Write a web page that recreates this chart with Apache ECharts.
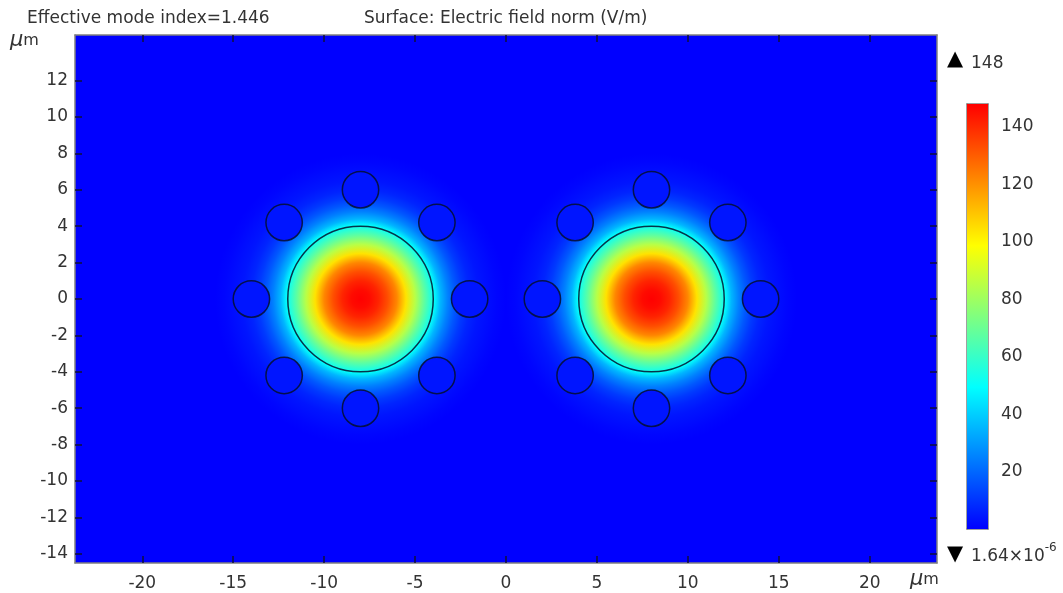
<!DOCTYPE html>
<html>
<head>
<meta charset="utf-8">
<style>html,body{margin:0;padding:0;background:#fff}#chart{width:1063px;height:593px}</style>
<script src="https://cdn.jsdelivr.net/npm/echarts@6/dist/echarts.min.js"></script>
</head>
<body>
<div id="chart"></div>
<script>
// Values.
const xTicks = [-20, -15, -10, -5, 0, 5, 10, 15, 20];
const yTicks = [-14, -12, -10, -8, -6, -4, -2, 0, 2, 4, 6, 8, 10, 12];
const barTicks = [20, 40, 60, 80, 100, 120, 140];
const fieldMin = 0.00000164;
const fieldMax = 148;

// Core centres and their radius (um)
const coreX = [-8, 8];
const coreY = [0, 0];
const coreRadius = 4;

// Ring of air holes around each core (um)
const holeX = [-8, -12.2, -3.8, -14, -2, -12.2, -3.8, -8, 8, 3.8, 12.2, 2, 14, 3.8, 12.2, 8];
const holeY = [6, 4.2, 4.2, 0, 0, -4.2, -4.2, -6, 6, 4.2, 4.2, 0, 0, -4.2, -4.2, -6];
const holeRadius = 1;
const holeField = 4;

// Electric field norm read along the radius of a core: distance (um) and V/m
const profileR = [0, 0.5, 1, 1.5, 2, 2.5, 3, 3.5, 3.95, 4.05, 4.4, 4.8, 5.2, 5.6, 6, 6.5, 7, 7.5, 8];
const profileE = [148, 146, 141, 133, 122, 104, 85, 68, 54, 50, 35, 25, 17, 11, 7, 4, 2.5, 1, 0];

// Colour table of the scale, positions as fractions of the range
const paletteAt = [0, 1 / 3, 2 / 3, 1];
const paletteRGB = [[0, 0, 255], [0, 255, 255], [255, 255, 0], [255, 0, 0]];

function colorOf(v) {
  const t = Math.max(0, Math.min(1, v / fieldMax));
  let i = 0;
  while (i < paletteAt.length - 2 && t > paletteAt[i + 1]) i++;
  const f = (t - paletteAt[i]) / (paletteAt[i + 1] - paletteAt[i]);
  const a = paletteRGB[i], b = paletteRGB[i + 1];
  return 'rgb(' + a.map((c, k) => Math.round(c + (b[k] - c) * f)).join(',') + ')';
}

const outerR = profileR[profileR.length - 1];
const fieldStops = profileR.map((r, i) => ({ offset: r / outerR, color: colorOf(profileE[i]) }));
const barStops = paletteAt.map((p, i) => ({ offset: 1 - p, color: 'rgb(' + paletteRGB[i].join(',') + ')' })).reverse();

const outlineData = coreX.map((x, i) => [x, coreY[i], coreRadius, -1])
  .concat(holeX.map((x, i) => [x, holeY[i], holeRadius, holeField]));

const textColor = '#333';
const font = 'DejaVu Sans';
const lineColor = '#808080';
const fontSize = 17;

function unitText(left, top) {
  return {
    type: 'text', left, top, z: 10,
    style: {
      text: '{a|\u03BC}{b|m}',
      rich: {
        a: { fontFamily: font, fontStyle: 'italic', fontSize: 21, fill: textColor, fontWeight: 'normal' },
        b: { fontFamily: font, fontSize: 16, fill: textColor }
      }
    }
  };
}

const mainX = (pos, labels) => ({
  type: 'value', gridIndex: 0, position: pos, min: -23.7, max: 23.7, scale: true,
  splitLine: { show: false },
  axisLine: { show: true, onZero: false, lineStyle: { color: lineColor, width: 1.5 } },
  axisTick: { show: true, inside: true, length: 7, customValues: xTicks, lineStyle: { color: '#10103a', width: 1.5 } },
  axisLabel: labels
    ? { show: true, customValues: xTicks, margin: 12, color: textColor, fontFamily: font, fontSize }
    : { show: false }
});
const mainY = (pos, labels) => ({
  type: 'value', gridIndex: 0, position: pos, min: -14.5, max: 14.5, scale: true,
  splitLine: { show: false },
  axisLine: { show: true, onZero: false, lineStyle: { color: lineColor, width: 1.5 } },
  axisTick: { show: true, inside: true, length: 7, customValues: yTicks, lineStyle: { color: '#10103a', width: 1.5 } },
  axisLabel: labels
    ? { show: true, customValues: yTicks, margin: 7, padding: [2, 0, 0, 0], color: textColor, fontFamily: font, fontSize }
    : { show: false }
});
const barX = pos => ({
  type: 'value', gridIndex: 1, position: pos, min: 0, max: 1,
  splitLine: { show: false },
  axisLine: { show: true, onZero: false, lineStyle: { color: lineColor, width: 1.5 } },
  axisTick: { show: false }, axisLabel: { show: false }
});
const barY = (pos, labels) => ({
  type: 'value', gridIndex: 1, position: pos, min: 0, max: fieldMax,
  splitLine: { show: false },
  axisLine: { show: true, onZero: false, lineStyle: { color: lineColor, width: 1.5 } },
  axisTick: { show: true, inside: true, length: 4, customValues: barTicks, lineStyle: { color: '#222', width: 1.5 } },
  axisLabel: labels
    ? { show: true, customValues: barTicks, margin: 13, padding: [2, 0, 0, 0], color: textColor, fontFamily: font, fontSize }
    : { show: false }
});

const chart = echarts.init(document.getElementById('chart'));
chart.setOption({
  animation: false,
  backgroundColor: '#fff',
  title: [
    { text: 'Effective mode index=1.446', left: 27, top: 10, padding: 0, textStyle: { fontFamily: font, fontSize: 17, fontWeight: 'normal', color: textColor } },
    { text: 'Surface: Electric field norm (V/m)', left: 364, top: 10, padding: 0, textStyle: { fontFamily: font, fontSize: 17, fontWeight: 'normal', color: textColor } }
  ],
  grid: [
    { left: 75, top: 35, width: 862, height: 528, show: true, backgroundColor: colorOf(0), borderWidth: 0 },
    { left: 967, top: 104, width: 21, height: 425, show: false }
  ],
  xAxis: [mainX('bottom', true), mainX('top', false), barX('bottom'), barX('top')],
  yAxis: [mainY('left', true), mainY('right', false), barY('right', true), barY('left', false)],
  series: [
    {
      type: 'custom', name: 'Electric field norm', xAxisIndex: 0, yAxisIndex: 0, z: 1, silent: true, clip: true,
      data: coreX.map((x, i) => [x, coreY[i]]),
      renderItem(params, api) {
        const c = api.coord([api.value(0), api.value(1)]);
        const r = api.size([outerR, 0])[0];
        return {
          type: 'circle', shape: { cx: c[0], cy: c[1], r },
          style: { fill: { type: 'radial', x: 0.5, y: 0.5, r: 0.5, colorStops: fieldStops } }
        };
      }
    },
    {
      type: 'custom', name: 'Geometry', xAxisIndex: 0, yAxisIndex: 0, z: 2, silent: true,
      data: outlineData,
      renderItem(params, api) {
        const c = api.coord([api.value(0), api.value(1)]);
        const r = api.size([api.value(2), 0])[0];
        const v = api.value(3);
        return {
          type: 'circle', shape: { cx: c[0], cy: c[1], r },
          style: { fill: v < 0 ? 'transparent' : colorOf(v), stroke: 'rgba(5,15,45,0.85)', lineWidth: 1.5 }
        };
      }
    },
    {
      type: 'custom', name: 'Colour scale', xAxisIndex: 2, yAxisIndex: 2, z: 1, silent: true,
      data: [[fieldMin, fieldMax]],
      renderItem(params, api) {
        const a = api.coord([0, api.value(1)]);
        const b = api.coord([1, api.value(0)]);
        return {
          type: 'rect', shape: { x: a[0], y: a[1], width: b[0] - a[0], height: b[1] - a[1] },
          style: { fill: { type: 'linear', x: 0, y: 0, x2: 0, y2: 1, colorStops: barStops } }
        };
      }
    }
  ],
  graphic: [
    unitText(10, 30),
    unitText(910, 569),
    { type: 'text', left: 947, top: 49, style: { text: '\u25B2', fontFamily: font, fontSize: 21, fill: '#000' } },
    { type: 'text', left: 971, top: 55, style: { text: String(fieldMax), fontFamily: font, fontSize, fill: textColor } },
    { type: 'text', left: 947, top: 544, style: { text: '\u25BC', fontFamily: font, fontSize: 21, fill: '#000' } },
    {
      type: 'text', left: 971, top: 542,
      style: {
        text: '{a|1.64\u00D710}{b|-6}',
        rich: {
          a: { fontFamily: font, fontSize, fill: textColor, padding: [6, 0, 0, 0] },
          b: { fontFamily: font, fontSize: 12, fill: textColor, verticalAlign: 'top' }
        }
      }
    }
  ]
});
</script>
</body>
</html>
